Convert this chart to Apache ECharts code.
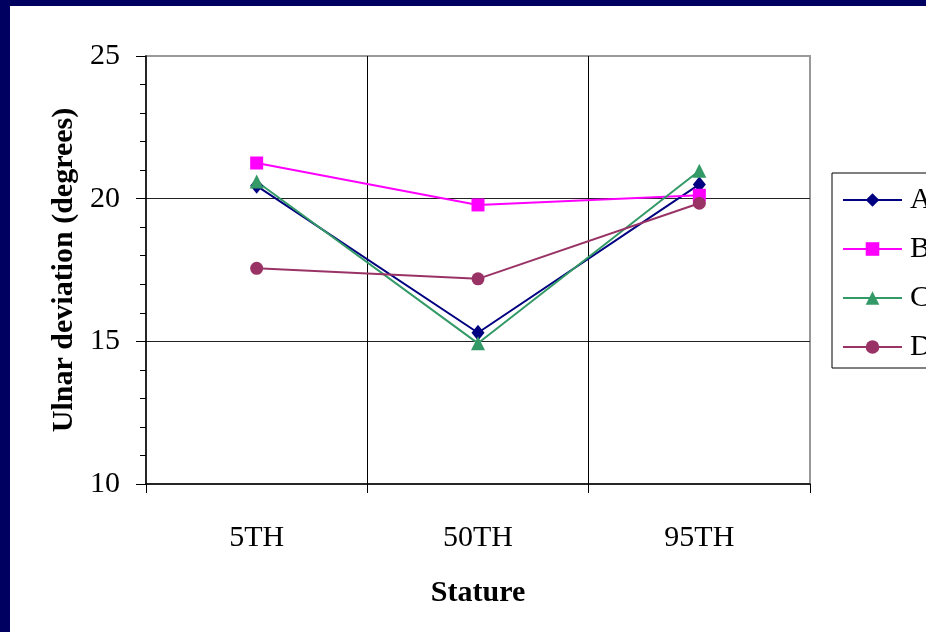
<!DOCTYPE html>
<html>
<head>
<meta charset="utf-8">
<script src="https://cdn.jsdelivr.net/npm/echarts@6/dist/echarts.min.js"></script>
<style>
  html, body { margin: 0; padding: 0; width: 926px; height: 632px; background: #000060; overflow: hidden; }
  #chart { position: absolute; left: 10px; top: 6px; width: 916px; height: 626px; background: #ffffff; }
</style>
</head>
<body>
<div id="chart"></div>
<script>
// Ulnar deviation by stature percentile for four conditions
const categories = ['5TH', '50TH', '95TH'];
const seriesA = [20.45, 15.3, 20.5];
const seriesB = [21.25, 19.78, 20.12];
const seriesC = [20.6, 14.93, 20.98];
const seriesD = [17.56, 17.19, 19.84];
const yTicks = { min: 10, max: 25, step: 5 };

const serif = "'Liberation Serif', 'Times New Roman', serif";

function lineSeries(name, data, color, symbol, size) {
  return {
    name: name,
    type: 'line',
    data: data,
    symbol: symbol,
    symbolSize: size,
    color: color,
    lineStyle: { color: color, width: 2 },
    itemStyle: { color: color },
    emphasis: { disabled: true },
    animation: false
  };
}

const chart = echarts.init(document.getElementById('chart'));
chart.setOption({
  backgroundColor: '#ffffff',
  animation: false,
  grid: {
    left: 136, top: 50, right: 116, bottom: 148,
    show: true, borderColor: '#999999', borderWidth: 2, backgroundColor: 'transparent'
  },
  legend: {
    orient: 'vertical',
    left: 822, top: 167,
    padding: [12, 40, 6, 10],
    itemWidth: 59, itemHeight: 17, itemGap: 19,
    borderColor: '#000000', borderWidth: 1,
    textStyle: { fontFamily: serif, fontSize: 30, color: '#000', lineHeight: 30, padding: [0, 0, 0, 3] },
    data: ['A', 'B', 'C', 'D']
  },
  xAxis: {
    type: 'category',
    data: categories,
    boundaryGap: true,
    name: 'Stature',
    nameLocation: 'middle',
    nameGap: 94,
    nameTextStyle: { fontFamily: serif, fontSize: 30, fontWeight: 'bold', color: '#000' },
    axisLine: { lineStyle: { color: '#000', width: 1.5 } },
    axisTick: { show: true, length: 9, lineStyle: { color: '#000' } },
    axisLabel: { fontFamily: serif, fontSize: 30, color: '#000', margin: 39 },
    splitLine: { show: true, showMaxLine: false, showMinLine: false, lineStyle: { color: '#000', width: 1 } }
  },
  yAxis: {
    type: 'value',
    min: yTicks.min, max: yTicks.max, interval: yTicks.step,
    name: 'Ulnar deviation (degrees)',
    nameLocation: 'middle',
    nameGap: 67,
    nameTextStyle: { fontFamily: serif, fontSize: 30, fontWeight: 'bold', color: '#000' },
    axisLine: { show: true, lineStyle: { color: '#000', width: 1.5 } },
    axisTick: { show: true, length: 10, lineStyle: { color: '#000' } },
    minorTick: { show: true, splitNumber: 5, length: 6, lineStyle: { color: '#000' } },
    axisLabel: { fontFamily: serif, fontSize: 30, color: '#000', margin: 26 },
    splitLine: { show: true, showMaxLine: false, showMinLine: false, lineStyle: { color: '#222', width: 1 } }
  },
  series: [
    lineSeries('A', seriesA, '#000080', 'diamond', [13, 16]),
    lineSeries('B', seriesB, '#ff00ff', 'rect', 13),
    lineSeries('C', seriesC, '#339966', 'triangle', 14),
    lineSeries('D', seriesD, '#993366', 'circle', 13)
  ]
});
</script>
</body>
</html>
